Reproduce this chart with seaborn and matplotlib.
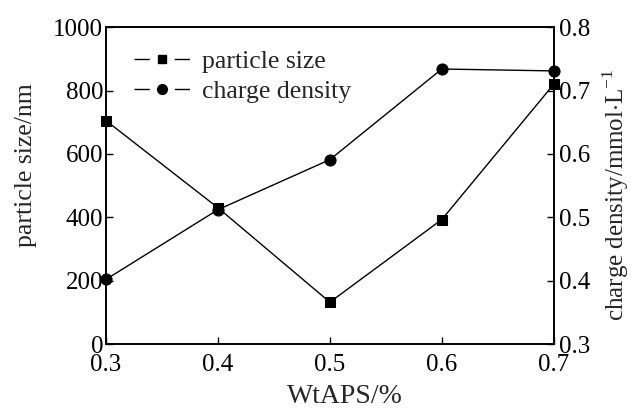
import matplotlib
matplotlib.use("Agg")
import matplotlib.pyplot as plt
import seaborn as sns
import pandas as pd
from matplotlib.lines import Line2D

# APS mass fraction (%)
wt_aps = [0.3, 0.4, 0.5, 0.6, 0.7]
# particle size (nm)
particle_size = [705, 430, 132, 393, 820]
# charge density (mmol/L)
charge_density = [0.402, 0.512, 0.591, 0.734, 0.731]

x_ticks = [0.3, 0.4, 0.5, 0.6, 0.7]
left_ticks = [0, 200, 400, 600, 800, 1000]
right_ticks = [0.3, 0.4, 0.5, 0.6, 0.7, 0.8]

sns.set_theme(style="ticks")
plt.rcParams["font.family"] = ["Liberation Serif", "DejaVu Serif"]
plt.rcParams["mathtext.fontset"] = "custom"
plt.rcParams["mathtext.rm"] = "Liberation Serif"

df = pd.DataFrame({"wt": wt_aps, "size": particle_size, "charge": charge_density})

fig = plt.figure(figsize=(6.36, 4.12), dpi=100)
ax = fig.add_axes([0.1667, 0.165, 0.704, 0.769])
ax2 = ax.twinx()

sns.lineplot(data=df, x="wt", y="size", ax=ax, color="black", linewidth=1.0,
             marker="s", markersize=7, markeredgecolor="black", clip_on=False)
sns.lineplot(data=df, x="wt", y="charge", ax=ax2, color="black", linewidth=1.0,
             marker="o", markersize=8, markeredgecolor="black", clip_on=False)

ax.set_xlim(0.3, 0.7)
ax.set_ylim(0, 1000)
ax2.set_ylim(0.3, 0.8)
ax.set_xticks(x_ticks)
ax.set_xticklabels([f"{v:.1f}" for v in x_ticks])
ax.set_yticks(left_ticks)
ax2.set_yticks(right_ticks)
ax2.set_yticklabels([f"{v:.1f}" for v in right_ticks])

for a in (ax, ax2):
    for s in a.spines.values():
        s.set_visible(True)
        s.set_linewidth(1.2)
        s.set_color("black")
ax.tick_params(axis="y", direction="in", length=5, width=1, labelsize=18, colors="black", pad=2)
ax.tick_params(axis="x", direction="in", length=5, width=1, labelsize=18, colors="black", pad=7)
ax2.tick_params(axis="y", direction="in", length=5, width=1, labelsize=18, colors="black", pad=4)

ax.set_xlabel("WtAPS/%", fontsize=20)
ax.xaxis.set_label_coords(0.533, -0.125)
ax.set_ylabel("particle size/nm", fontsize=18.5)
ax.yaxis.set_label_coords(-0.154, 0.565)
ax2.set_ylabel(r"charge density/mmol$\cdot$L$^{-1}$", fontsize=18)
ax2.yaxis.set_label_coords(1.103, 0.47)

handles = [
    Line2D([], [], color="black", linewidth=1.0, linestyle=(0, (11, 18)), marker="s", markersize=6),
    Line2D([], [], color="black", linewidth=1.0, linestyle=(0, (11, 18)), marker="o", markersize=7),
]
ax.legend(handles, ["particle size", "charge density"], loc="upper left",
          bbox_to_anchor=(0.04, 0.96), frameon=False, fontsize=18.5,
          handlelength=2.2, handletextpad=0.45, labelspacing=0.25, borderaxespad=0)

fig.savefig("out.png", dpi=100)
